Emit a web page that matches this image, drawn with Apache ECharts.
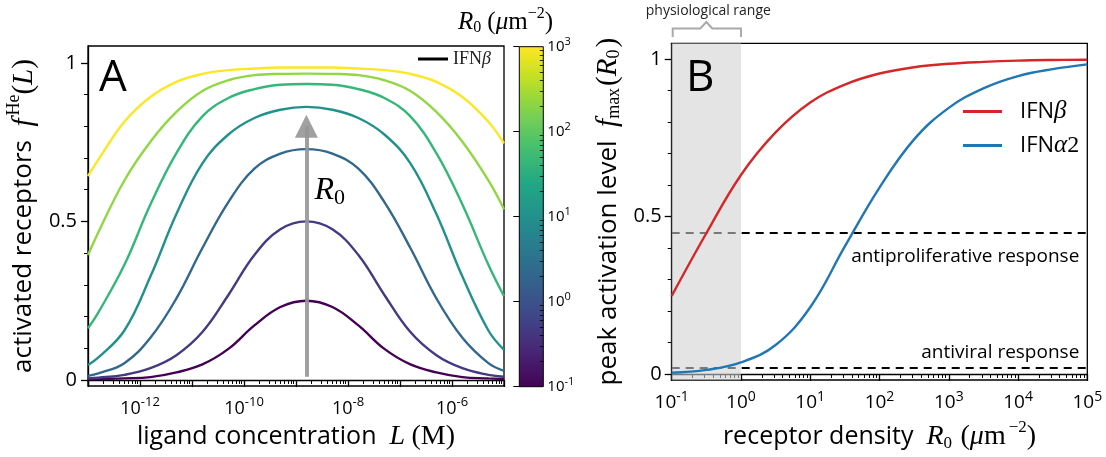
<!DOCTYPE html>
<html><head><meta charset="utf-8">
<script src="https://cdn.jsdelivr.net/npm/echarts@6/dist/echarts.min.js"></script>
<style>html,body{margin:0;padding:0;background:#fff}#c{width:1106px;height:457px}</style>
</head><body><div id="c"></div>
<script>
// ---------- DATA ----------
// Panel A: ligand concentration (M)
const L_CONC = [1e-13, 1.585e-13, 5.01e-13, 1.585e-12, 5.01e-12, 1.585e-11, 5.01e-11, 1.585e-10, 5.01e-10, 1.585e-9, 5.01e-9, 1.585e-8, 5.01e-8, 1.585e-7, 5.01e-7, 1.585e-6, 5.01e-6, 1e-5];
// activated receptors f^He(L) for R0 = 0.1 ... 1000 um^-2
const R0_LEVELS = ['0.1', '0.46', '2.2', '10', '46', '220', '1000'];
const F_R0_0p1  = [0.002,0.003,0.005,0.009,0.024,0.049,0.098,0.172,0.230,0.250,0.230,0.172,0.098,0.049,0.024,0.009,0.005,0.003];
const F_R0_0p46 = [0.005,0.007,0.016,0.037,0.078,0.151,0.268,0.394,0.475,0.500,0.475,0.394,0.268,0.151,0.078,0.037,0.016,0.010];
const F_R0_2p2  = [0.013,0.021,0.053,0.133,0.257,0.416,0.561,0.666,0.714,0.728,0.714,0.666,0.561,0.416,0.257,0.133,0.053,0.029];
const F_R0_10   = [0.047,0.071,0.156,0.326,0.523,0.683,0.774,0.826,0.852,0.861,0.852,0.826,0.774,0.683,0.523,0.326,0.156,0.095];
const F_R0_46   = [0.163,0.213,0.363,0.553,0.715,0.831,0.889,0.917,0.931,0.933,0.931,0.917,0.889,0.831,0.715,0.553,0.363,0.264];
const F_R0_220  = [0.394,0.466,0.629,0.751,0.845,0.911,0.945,0.961,0.965,0.966,0.965,0.961,0.945,0.911,0.845,0.751,0.629,0.538];
const F_R0_1000 = [0.643,0.695,0.814,0.892,0.940,0.965,0.977,0.982,0.985,0.985,0.985,0.982,0.977,0.965,0.940,0.892,0.814,0.746];
const L_PEAK = 1.585e-9;        // arrow position (M)
const ARROW_Y = [0.01, 0.80];   // arrow from / to
const R0_LABEL_Y = 0.596;

// Panel B: receptor density R0 (um^-2)
const R0_DENS = [0.1, 0.316, 1, 3.16, 10, 31.6, 100, 316, 1000, 3160, 1e4, 3.16e4, 1e5];
const FMAX_IFNB  = [0.248,0.447,0.632,0.767,0.862,0.919,0.954,0.974,0.985,0.991,0.995,0.997,0.998];
const FMAX_IFNA2 = [0.004,0.013,0.037,0.092,0.212,0.405,0.592,0.745,0.845,0.907,0.946,0.968,0.983];
const ANTIPROLIF = 0.445;
const ANTIVIRAL = 0.016;
const PHYS_RANGE = [0.1, 1];

// tick labels
const Y_TICKS = [0, 0.5, 1];
const Y_MINOR = [0.1, 0.2, 0.3, 0.4, 0.6, 0.7, 0.8, 0.9];

// ---------- STYLE ----------
const SANS = '"Open Sans", "Noto Sans", sans-serif';
const SERIF = '"Liberation Serif", "DejaVu Serif", serif';
const CURVE_COLORS = ['#440154', '#443983', '#31688e', '#21918c', '#35b779', '#90d743', '#fde725'];
const VIRIDIS = ['#440154','#482475','#414487','#355f8d','#2a788e','#21918c','#22a884','#44bf70','#7ad151','#bddf26','#fde725'];

function minorLog(e0, e1, scale) {
  const out = [];
  for (let e = e0; e < e1; e++) for (let k = 2; k <= 9; k++) out.push(k * Math.pow(10, e) * scale);
  return out;
}
function tickRich(b, s) {
  return {
    b: {fontFamily: SANS, fontSize: b, color: '#000'},
    s: {fontFamily: SANS, fontSize: s, color: '#000', padding: [0, 0, Math.round(b * 0.65), 0]}
  };
}
function mathRich(size) {
  return {
    s: {fontFamily: SANS, fontSize: size, color: '#000'},
    i: {fontFamily: SERIF, fontStyle: 'italic', fontSize: size + 3, color: '#000'},
    r: {fontFamily: SERIF, fontSize: size + 3, color: '#000'},
    sup: {fontFamily: SERIF, fontSize: Math.round(size * 0.68), color: '#000', padding: [0, 0, Math.round(size * 0.75), 3]},
    sub: {fontFamily: SERIF, fontSize: Math.round(size * 0.68), color: '#000', padding: [Math.round(size * 0.5), 2, 0, 0]}
  };
}

const PM = 1e12; // panel A axis in pM (log axis), labels show molar exponents
const leftSets = [F_R0_0p1, F_R0_0p46, F_R0_2p2, F_R0_10, F_R0_46, F_R0_220, F_R0_1000];

const series = leftSets.map((arr, k) => ({
  name: 'R0=' + R0_LEVELS[k], type: 'line', xAxisIndex: 0, yAxisIndex: 0,
  data: L_CONC.map((x, i) => [x * PM, arr[i]]),
  smooth: 0.4, showSymbol: false, symbol: 'none',
  lineStyle: {color: CURVE_COLORS[k], width: 2.4}, itemStyle: {color: CURVE_COLORS[k]},
  z: 2 + k * 0.01
}));
// arrow
series[6].markLine = {
  z: 4, silent: true, animation: false,
  symbol: ['none', 'triangle'], symbolSize: 23,
  lineStyle: {color: 'rgba(150,150,150,0.9)', width: 4, type: 'solid'},
  label: {show: false},
  data: [[{coord: [L_PEAK * PM, ARROW_Y[0]]}, {coord: [L_PEAK * PM, ARROW_Y[1]]}]]
};
// legend dummy (panel A)
series.push({name: 'IFNβ-A', type: 'line', xAxisIndex: 0, yAxisIndex: 0, data: [],
  lineStyle: {color: '#000', width: 3}, itemStyle: {color: '#000'}});

// panel B
series.push({
  name: 'IFNβ', type: 'line', xAxisIndex: 2, yAxisIndex: 2,
  data: R0_DENS.map((x, i) => [x, FMAX_IFNB[i]]),
  smooth: 0.4, showSymbol: false, symbol: 'none',
  lineStyle: {color: '#d62728', width: 2.4}, itemStyle: {color: '#d62728'}, z: 3,
  markArea: {z: 1.5, silent: true, animation: false,
    itemStyle: {color: 'rgba(208,208,208,0.58)'},
    data: [[{xAxis: PHYS_RANGE[0]}, {xAxis: PHYS_RANGE[1]}]]}
});
series.push({
  name: 'IFNα2', type: 'line', xAxisIndex: 2, yAxisIndex: 2,
  data: R0_DENS.map((x, i) => [x, FMAX_IFNA2[i]]),
  smooth: 0.4, showSymbol: false, symbol: 'none',
  lineStyle: {color: '#1f77b4', width: 2.4}, itemStyle: {color: '#1f77b4'}, z: 3,
  markLine: {z: 1, silent: true, animation: false, symbol: ['none', 'none'],
    lineStyle: {color: '#000', type: [8, 6], width: 2},
    label: {show: true, color: '#000', fontFamily: SANS, fontSize: 19},
    data: [
      {yAxis: ANTIPROLIF, label: {position: 'insideEndBottom', formatter: 'antiproliferative response', distance: [8, 15]}},
      {yAxis: ANTIVIRAL, label: {position: 'insideEndTop', formatter: 'antiviral response', distance: [8, 6]}}
    ]}
});

const axisLineStyle = {lineStyle: {color: '#000', width: 1.3}};
const majorTick = {length: 7, lineStyle: {color: '#000', width: 1.3}};

const option = {
  animation: false,
  backgroundColor: '#fff',
  grid: [
    {left: 88, top: 46, width: 416, height: 340, show: true, borderColor: '#000', borderWidth: 1.3, backgroundColor: 'transparent'},
    {left: 671.7, top: 43.3, width: 415.6, height: 340, show: true, borderColor: '#000', borderWidth: 1.3, backgroundColor: 'transparent'},
    {left: 519.3, top: 46.7, width: 24, height: 340, show: true, borderColor: '#000', borderWidth: 1,
      backgroundColor: new echarts.graphic.LinearGradient(0, 1, 0, 0, VIRIDIS.map((c, i) => ({offset: i / (VIRIDIS.length - 1), color: c})))}
  ],
  xAxis: [
    {gridIndex: 0, type: 'log', logBase: 10, min: 0.1, max: 1e7, splitNumber: 8, position: 'bottom',
      axisLine: axisLineStyle, axisTick: majorTick, splitLine: {show: false},
      axisLabel: {margin: 10, formatter: v => { const e = Math.round(Math.log10(v)) - 12; return (e % 2 === 0) ? '{b|10}{s|' + e + '}' : ''; }, rich: tickRich(18, 13)},
      name: '{s|ligand concentration}  {i|L} {r|(M)}', nameLocation: 'middle', nameGap: 37,
      nameTextStyle: {fontFamily: SANS, fontSize: 25, color: '#000', rich: mathRich(25)}},
    {gridIndex: 0, type: 'log', logBase: 10, min: 0.1, max: 1e7, position: 'bottom',
      axisLine: {show: false}, splitLine: {show: false}, axisLabel: {show: false},
      axisTick: {length: 4, lineStyle: {color: '#000', width: 1}, customValues: minorLog(-1, 7, 1)}},
    {gridIndex: 1, type: 'log', logBase: 10, min: 0.1, max: 1e5, splitNumber: 6, position: 'bottom',
      axisLine: axisLineStyle, axisTick: majorTick, splitLine: {show: false},
      axisLabel: {margin: 10, formatter: v => '{b|10}{s|' + Math.round(Math.log10(v)) + '}', rich: tickRich(19, 14)},
      name: '{s|receptor density}  {i|R}{sub|0} {r|(}{i|μ}{r|m}{sup|−2}{r|)}', nameLocation: 'middle', nameGap: 39,
      nameTextStyle: {fontFamily: SANS, fontSize: 25, color: '#000', rich: mathRich(25)}},
    {gridIndex: 1, type: 'log', logBase: 10, min: 0.1, max: 1e5, position: 'bottom',
      axisLine: {show: false}, splitLine: {show: false}, axisLabel: {show: false},
      axisTick: {length: 4, lineStyle: {color: '#000', width: 1}, customValues: minorLog(-1, 5, 1)}},
    {gridIndex: 2, type: 'value', show: false, min: 0, max: 1}
  ],
  yAxis: [
    {gridIndex: 0, type: 'value', min: -0.019, max: 1.053, position: 'left',
      axisLine: {show: true, lineStyle: {color: '#000', width: 1.3}}, splitLine: {show: false},
      axisTick: {show: true, length: 7, lineStyle: {color: '#000', width: 1.3}, customValues: Y_TICKS},
      axisLabel: {customValues: Y_TICKS, margin: 11, color: '#000', fontFamily: SANS, fontSize: 20, formatter: v => String(v)},
      name: '{s|activated receptors}  {i|f}{sup|He}{r|(}{i|L}{r|)}', nameLocation: 'middle', nameGap: 45,
      nameTextStyle: {fontFamily: SANS, fontSize: 26, color: '#000', rich: mathRich(26)}},
    {gridIndex: 0, type: 'value', min: -0.019, max: 1.053, position: 'left',
      axisLine: {show: false}, splitLine: {show: false}, axisLabel: {show: false},
      axisTick: {show: true, length: 4, lineStyle: {color: '#000', width: 1}, customValues: Y_MINOR}},
    {gridIndex: 1, type: 'value', min: -0.019, max: 1.05, position: 'left',
      axisLine: {show: true, lineStyle: {color: '#000', width: 1.3}}, splitLine: {show: false},
      axisTick: {show: true, length: 7, lineStyle: {color: '#000', width: 1.3}, customValues: Y_TICKS},
      axisLabel: {customValues: Y_TICKS, margin: 10, color: '#000', fontFamily: SANS, fontSize: 20, formatter: v => String(v)},
      name: '{s|peak activation level}  {i|f}{sub|max}{r|(}{i|R}{sub|0}{r|)}', nameLocation: 'middle', nameGap: 48,
      nameTextStyle: {fontFamily: SANS, fontSize: 26, color: '#000', rich: mathRich(26)}},
    {gridIndex: 1, type: 'value', min: -0.019, max: 1.05, position: 'left',
      axisLine: {show: false}, splitLine: {show: false}, axisLabel: {show: false},
      axisTick: {show: true, length: 4, lineStyle: {color: '#000', width: 1}, customValues: Y_MINOR}},
    {gridIndex: 2, type: 'log', logBase: 10, min: 0.1, max: 1000, splitNumber: 4, position: 'right',
      axisLine: {show: false}, splitLine: {show: false},
      axisTick: {show: true, inside: true, length: 6, lineStyle: {color: '#000', width: 1}},
      axisLabel: {margin: 4, formatter: v => '{b|10}{s|' + Math.round(Math.log10(v)) + '}', rich: tickRich(15, 11)}},
    {gridIndex: 2, type: 'log', logBase: 10, min: 0.1, max: 1000, position: 'right',
      axisLine: {show: false}, splitLine: {show: false}, axisLabel: {show: false},
      axisTick: {show: true, inside: true, length: 3.5, lineStyle: {color: '#000', width: 0.8}, customValues: minorLog(-1, 3, 1)}}
  ],
  legend: [
    {data: ['IFNβ-A'], left: 418, top: 50, padding: 0, icon: 'rect', itemWidth: 30, itemHeight: 3,
      selectedMode: false, formatter: () => '{r|IFN}{g|β}',
      textStyle: {rich: {r: {fontFamily: SERIF, fontSize: 18, color: '#222'}, g: {fontFamily: SERIF, fontStyle: 'italic', fontSize: 18, color: '#222'}}}},
    {data: ['IFNβ', 'IFNα2'], left: 963, top: 99, padding: 0, orient: 'vertical', icon: 'rect', itemWidth: 39, itemHeight: 3, itemGap: 9,
      selectedMode: false,
      formatter: n => n === 'IFNβ' ? '{s|IFN}{g|β}' : '{s|IFN}{g|α}{n|2}',
      textStyle: {rich: {
        s: {fontFamily: SANS, fontSize: 22, color: '#000', padding: [0, 0, 0, 13], lineHeight: 26},
        g: {fontFamily: SERIF, fontStyle: 'italic', fontSize: 25, color: '#000', lineHeight: 26},
        n: {fontFamily: SERIF, fontSize: 24, color: '#000', lineHeight: 26}}}}
  ],
  series: series
};

const chart = echarts.init(document.getElementById('c'), null, {renderer: 'canvas', width: 1106, height: 457});
chart.setOption(option);

// annotations positioned from the axes
const pR0 = chart.convertToPixel({xAxisIndex: 0, yAxisIndex: 0}, [L_PEAK * PM, R0_LABEL_Y]);
const bx0 = chart.convertToPixel({xAxisIndex: 2}, PHYS_RANGE[0]);
const bx1 = chart.convertToPixel({xAxisIndex: 2}, PHYS_RANGE[1]);
const bmid = (bx0 + bx1) / 2;
chart.setOption({
  graphic: [
    {type: 'text', x: 99, y: 78, z: 20, style: {text: 'A', font: '44px ' + SANS, fill: '#000', verticalAlign: 'middle'}},
    {type: 'text', x: 686, y: 78, z: 20, style: {text: 'B', font: '44px ' + SANS, fill: '#000', verticalAlign: 'middle'}},
    {type: 'text', x: pR0[0] + 8, y: pR0[1], z: 20, style: {text: '{i|R}{sub|0}', verticalAlign: 'middle', align: 'left',
      rich: {i: {fontFamily: SERIF, fontStyle: 'italic', fontSize: 32, fill: '#000'}, sub: {fontFamily: SERIF, fontSize: 22, fill: '#000', padding: [14, 0, 0, 0]}}}},
    {type: 'text', x: 553, y: 22, z: 20, style: {text: '{i|R}{sub|0} {r|(}{i|μ}{r|m}{sup|−2}{r|)}', align: 'right', verticalAlign: 'middle',
      font: '24px ' + SERIF, rich: {
        i: {fontFamily: SERIF, fontStyle: 'italic', fontSize: 25, fill: '#000'},
        r: {fontFamily: SERIF, fontSize: 25, fill: '#000'},
        sub: {fontFamily: SERIF, fontSize: 16, fill: '#000', padding: [11, 0, 0, 0]},
        sup: {fontFamily: SERIF, fontSize: 16, fill: '#000', padding: [0, 0, 16, 0]}}}},
    {type: 'text', x: bmid + 2, y: 11, z: 20, style: {text: 'physiological range', font: '14px ' + SANS, fill: '#222', align: 'center', verticalAlign: 'middle'}},
    {type: 'polyline', z: 20, shape: {points: [[bx0 + 1, 37], [bx0 + 1, 28.5], [bmid - 6, 28.5], [bmid, 22], [bmid + 6, 28.5], [bx1, 28.5], [bx1, 37]]},
      style: {stroke: '#aaa', lineWidth: 2, fill: null}}
  ]
});
</script>
</body></html>
